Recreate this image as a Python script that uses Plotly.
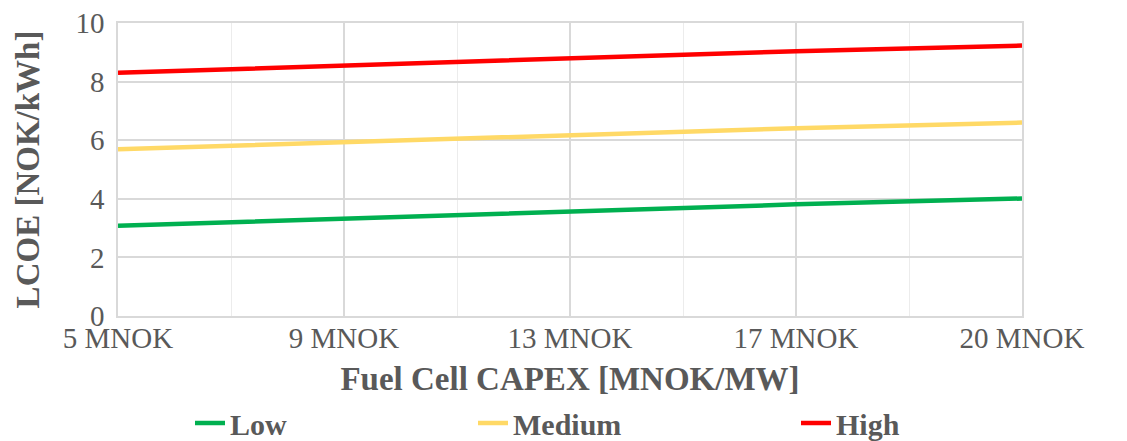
import plotly.graph_objects as go

# Fuel cell CAPEX scenarios and resulting LCOE [NOK/kWh]
capex_labels = ["5 MNOK", "9 MNOK", "13 MNOK", "17 MNOK", "20 MNOK"]
lcoe_low = [3.08, 3.32, 3.56, 3.81, 4.01]
lcoe_medium = [5.69, 5.93, 6.17, 6.41, 6.60]
lcoe_high = [8.30, 8.55, 8.79, 9.04, 9.23]

series_names = ["Low", "Medium", "High"]
series_colors = ["#00b050", "#ffd966", "#ff0000"]
legend_ids = ["legend", "legend2", "legend3"]

FONT = "Liberation Serif"
TEXT = "#595959"
GRID = "#d9d9d9"
MINOR_GRID = "#ececec"

# labelled scenarios sit on every second slot of an evenly spaced axis
xpos = [2 * i for i in range(len(capex_labels))]

fig = go.Figure()
for name, vals, color, lg in zip(series_names, [lcoe_low, lcoe_medium, lcoe_high],
                                 series_colors, legend_ids):
    fig.add_trace(go.Scatter(
        x=xpos, y=vals, mode="lines", name=name,
        line=dict(color=color, width=4.5),
        legend=lg,
    ))

legend_style = dict(
    orientation="h", yanchor="middle", xanchor="left",
    font=dict(family=FONT, size=30, color=TEXT, weight="bold"),
    bgcolor="rgba(0,0,0,0)", itemwidth=30, tracegroupgap=0,
    xref="paper", yref="container", y=(441 - 423) / 441,
)

plot_l, plot_r = 118, 1022
plot_w = plot_r - plot_l


def px_to_paper(px):
    return (px - plot_l) / plot_w


fig.update_layout(
    width=1127, height=441,
    margin=dict(l=118, r=105, t=23, b=125, autoexpand=False),
    paper_bgcolor="white", plot_bgcolor="white",
    showlegend=True,
    legend=dict(legend_style, x=px_to_paper(190)),
    legend2=dict(legend_style, x=px_to_paper(473)),
    legend3=dict(legend_style, x=px_to_paper(796)),
    xaxis=dict(
        range=[0, xpos[-1]],
        tickmode="array", tickvals=xpos, ticktext=capex_labels,
        tickfont=dict(family=FONT, size=29, color=TEXT),
        showgrid=True, gridcolor=GRID, gridwidth=1.5,
        minor=dict(dtick=1, tick0=0, showgrid=True, gridcolor=MINOR_GRID, gridwidth=1.2),
        showline=True, linecolor=GRID, linewidth=1.5, mirror=True,
        zeroline=False, ticks="", ticklabelstandoff=-5,
        title=dict(text="Fuel Cell CAPEX [MNOK/MW]",
                   font=dict(family=FONT, size=33, color=TEXT, weight="bold"),
                   standoff=15),
    ),
    yaxis=dict(
        range=[0, 10], dtick=2, tick0=0,
        tickfont=dict(family=FONT, size=29, color=TEXT),
        showgrid=True, gridcolor=GRID, gridwidth=1.5,
        showline=True, linecolor=GRID, linewidth=1.5, mirror=True,
        zeroline=False, ticks="", ticklabelstandoff=6,
        title=dict(text="LCOE [NOK/kWh]",
                   font=dict(family=FONT, size=33, color=TEXT, weight="bold"),
                   standoff=26),
    ),
)

fig.write_html("out.html")
